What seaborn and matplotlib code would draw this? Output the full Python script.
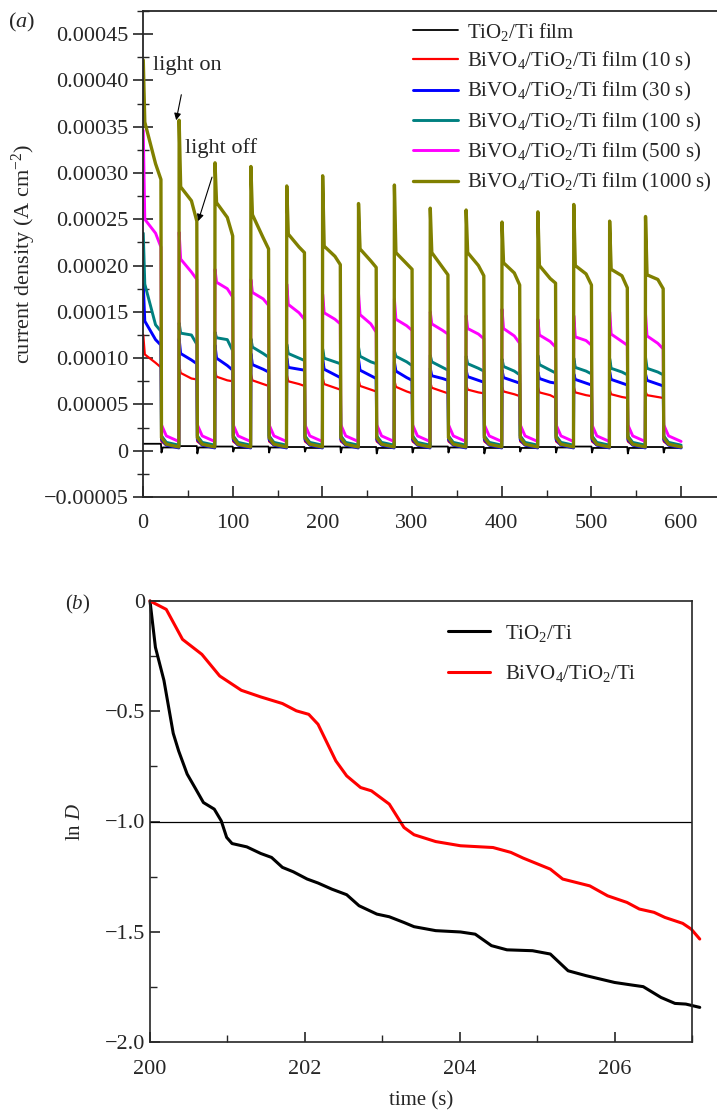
import matplotlib
matplotlib.use('Agg')
import numpy as np
import pandas as pd
import matplotlib.pyplot as plt
import seaborn as sns
from matplotlib.ticker import MultipleLocator, FuncFormatter

# --- SETTINGS & THEME ---
sns.set_style('ticks')
plt.rcParams['font.family'] = ['Liberation Serif', 'DejaVu Serif']
plt.rcParams['mathtext.fontset'] = 'custom'
plt.rcParams['mathtext.rm'] = 'Liberation Serif'
plt.rcParams['mathtext.it'] = 'Liberation Serif:italic'
plt.rcParams['axes.unicode_minus'] = True

# --- PANEL (a): chopped-light photocurrent, values in 1e-5 A cm^-2 ---
LIGHT_ON = [0, 40, 80, 120, 160, 200, 240, 280, 320, 360, 400, 440, 480, 520, 560]
ON_OFFSETS = [0.3, 2.0, 14.0, 20.0]      # spike, knee, shoulder, light off
DARK_OFFSETS = [20.6, 26.0, 40.0]       # after light off

# per cycle: [spike, knee, shoulder, end of light]
OLIVE_1000 = [[42.2, 35.5, 31.0, 29.3], [35.7, 28.5, 27.0, 24.8], [31.1, 26.8, 25.2, 23.2],
              [30.7, 25.5, 23.0, 21.8], [28.6, 23.4, 22.0, 21.4], [29.7, 22.1, 21.0, 20.1],
              [26.7, 21.8, 20.5, 19.8], [28.7, 21.4, 20.2, 19.6], [26.2, 21.4, 19.8, 19.0],
              [26.0, 21.4, 20.0, 18.9], [24.7, 20.3, 19.2, 17.9], [25.8, 20.0, 18.6, 18.1],
              [26.6, 20.0, 19.1, 17.9], [24.8, 19.6, 18.9, 17.6], [25.3, 19.0, 18.5, 17.5]]
MAGENTA_500 = [[34.6, 25.0, 23.5, 22.0], [23.6, 20.7, 19.3, 18.5], [19.6, 18.2, 17.5, 16.6],
               [18.5, 17.1, 16.4, 15.7], [18.0, 15.8, 14.9, 14.2], [16.9, 14.9, 14.2, 13.7],
               [17.0, 14.7, 13.7, 12.8], [16.4, 14.2, 13.5, 13.0], [15.0, 13.7, 13.0, 12.6],
               [14.6, 13.2, 12.6, 12.1], [15.3, 13.2, 12.4, 11.6], [14.2, 12.5, 11.8, 11.2],
               [14.6, 12.3, 11.9, 11.4], [15.0, 12.6, 11.8, 11.4], [14.8, 12.4, 11.6, 11.0]]
TEAL_100 = [[23.5, 18.0, 13.6, 12.9], [13.8, 12.7, 12.5, 11.5], [12.8, 12.2, 12.0, 10.8],
            [12.1, 11.2, 10.5, 10.1], [11.5, 10.5, 10.0, 9.75], [11.0, 10.0, 9.6, 9.4],
            [11.2, 10.2, 9.6, 9.4], [10.8, 10.2, 9.6, 9.2], [10.3, 9.6, 9.0, 8.7],
            [10.2, 9.4, 8.9, 8.6], [9.9, 9.1, 8.6, 8.2], [10.3, 9.3, 8.7, 8.4],
            [10.0, 9.0, 8.6, 8.3], [9.95, 8.9, 8.5, 8.2], [10.1, 8.9, 8.5, 8.2]]
BLUE_30 = [[18.0, 14.0, 12.0, 11.4], [12.1, 10.5, 9.8, 9.4], [11.4, 10.0, 9.2, 8.7],
           [10.5, 9.3, 8.8, 8.5], [10.0, 9.0, 8.8, 8.7], [9.9, 8.8, 8.2, 7.9],
           [9.9, 8.7, 8.1, 7.8], [9.6, 8.6, 7.9, 7.6], [8.9, 8.1, 7.8, 7.6],
           [8.7, 8.0, 7.6, 7.4], [8.7, 7.9, 7.5, 7.3], [8.5, 7.8, 7.4, 7.3],
           [8.3, 7.7, 7.3, 7.1], [8.5, 7.7, 7.3, 7.1], [8.3, 7.6, 7.2, 7.0]]
RED_10 = [[12.5, 10.4, 9.5, 9.0], [9.3, 8.4, 7.8, 7.7], [8.6, 8.0, 7.6, 7.5],
          [8.3, 7.6, 7.2, 7.0], [8.2, 7.5, 7.2, 7.0], [7.9, 7.2, 6.8, 6.6],
          [7.7, 7.0, 6.6, 6.4], [7.6, 6.9, 6.4, 6.2], [7.4, 6.8, 6.4, 6.2],
          [7.2, 6.6, 6.3, 6.2], [6.9, 6.4, 6.1, 5.9], [6.9, 6.3, 6.0, 5.7],
          [6.9, 6.3, 6.0, 5.9], [6.6, 6.1, 5.8, 5.7], [6.4, 6.0, 5.8, 5.7]]
# dark current after light off: [just off, few s later, before next light on]
DARK_OLIVE = [1.4, 0.7, 0.4]
DARK_MAGENTA = [2.8, 1.6, 1.0]
DARK_TEAL = [1.6, 0.9, 0.6]
DARK_BLUE = [1.2, 0.6, 0.3]
DARK_RED = [1.0, 0.6, 0.4]
# bare TiO2/Ti: tiny response, [light on, light off dip, dark]
BLACK_ON = [0.75, 0.5, 0.45, 0.45, 0.4, 0.45, 0.4, 0.4, 0.45, 0.4, 0.4, 0.4, 0.45, 0.4, 0.4]
BLACK_DIP = [-0.2, -0.3, -0.1, -0.2, -0.1, -0.2, -0.3, -0.2, -0.2, -0.3, -0.1, -0.2, -0.2, -0.3, -0.2]
BLACK_OFF = [0.35, 0.35, 0.3, 0.35, 0.3, 0.35, 0.3, 0.3, 0.35, 0.3, 0.3, 0.35, 0.3, 0.3, 0.3]

LABELS_A = ['TiO$_2$/Ti film',
            'BiVO$_4$/TiO$_2$/Ti film (10 s)',
            'BiVO$_4$/TiO$_2$/Ti film (30 s)',
            'BiVO$_4$/TiO$_2$/Ti film (100 s)',
            'BiVO$_4$/TiO$_2$/Ti film (500 s)',
            'BiVO$_4$/TiO$_2$/Ti film (1000 s)']
COLORS_A = ['#000000', '#ff0000', '#0000ff', '#008080', '#ff00ff', '#808000']

# --- PANEL (b): ln D decay ---
T_TIO2 = [200.0, 200.07, 200.18, 200.30, 200.37, 200.48, 200.58, 200.69, 200.83, 200.92,
          200.99, 201.06, 201.25, 201.43, 201.57, 201.71, 201.85, 202.03, 202.17, 202.35,
          202.54, 202.70, 202.93, 203.09, 203.28, 203.41, 203.69, 204.01, 204.20, 204.41,
          204.61, 204.94, 205.17, 205.40, 205.63, 206.00, 206.23, 206.37, 206.60, 206.78,
          206.92, 207.10]
LND_TIO2 = [0.0, -0.21, -0.36, -0.60, -0.68, -0.785, -0.846, -0.914, -0.944, -0.997,
            -1.072, -1.10, -1.115, -1.145, -1.163, -1.208, -1.228, -1.261, -1.279, -1.307,
            -1.332, -1.382, -1.420, -1.432, -1.458, -1.477, -1.495, -1.501, -1.511, -1.563,
            -1.582, -1.586, -1.601, -1.677, -1.699, -1.730, -1.742, -1.749, -1.798, -1.825,
            -1.828, -1.843]
T_BIVO4 = [200.0, 200.21, 200.42, 200.67, 200.90, 201.18, 201.43, 201.71, 201.89, 202.05,
           202.17, 202.40, 202.54, 202.72, 202.86, 203.09, 203.28, 203.41, 203.69, 204.01,
           204.43, 204.66, 204.82, 205.17, 205.33, 205.68, 205.91, 206.16, 206.32, 206.51,
           206.65, 206.88, 206.99, 207.10]
LND_BIVO4 = [0.0, -0.038, -0.174, -0.242, -0.340, -0.405, -0.435, -0.465, -0.498, -0.514,
             -0.559, -0.725, -0.793, -0.846, -0.861, -0.921, -1.027, -1.060, -1.091, -1.110,
             -1.118, -1.140, -1.166, -1.216, -1.261, -1.292, -1.337, -1.367, -1.397, -1.412,
             -1.435, -1.462, -1.488, -1.533]


def transient_frame(cycles, dark):
    """Vertices of one chopped-light curve (read values, joined as a polyline)."""
    t, j = [], []
    for t0, vals in zip(LIGHT_ON, cycles):
        if t0 > 0:
            t.append(t0)
            j.append(dark[-1])
        t += [t0 + o for o in ON_OFFSETS]
        j += vals
        t += [t0 + o for o in DARK_OFFSETS]
        j += dark
    return pd.DataFrame({'time': t, 'j': np.array(j) * 1e-5})


def black_frame():
    t, j = [], []
    for t0, on, dip, off in zip(LIGHT_ON, BLACK_ON, BLACK_DIP, BLACK_OFF):
        t += [t0 + 0.3, t0 + 20.0, t0 + 20.6, t0 + 22.0, t0 + 40.0]
        j += [on, on, dip, off, off]
    return pd.DataFrame({'time': t, 'j': np.array(j) * 1e-5})


fig = plt.figure(figsize=(7.17, 11.13), dpi=100)
ax1 = fig.add_axes([143 / 717, 1 - 497 / 1113, 574 / 717, 486 / 1113])
ax2 = fig.add_axes([150 / 717, 1 - 1042 / 1113, 542 / 717, 441 / 1113])

frames = [black_frame(),
          transient_frame(RED_10, DARK_RED),
          transient_frame(BLUE_30, DARK_BLUE),
          transient_frame(TEAL_100, DARK_TEAL),
          transient_frame(MAGENTA_500, DARK_MAGENTA),
          transient_frame(OLIVE_1000, DARK_OLIVE)]
widths = [1.3, 1.6, 2.1, 2.1, 2.1, 2.4]
for df, lab, col, lw in zip(frames, LABELS_A, COLORS_A, widths):
    sns.lineplot(data=df, x='time', y='j', ax=ax1, color=col, lw=lw, label=lab,
                 sort=False, estimator=None)

ax1.set_xlim(0, 640)
ax1.set_ylim(-0.00005, 0.000475)
ax1.xaxis.set_major_locator(MultipleLocator(100))
ax1.xaxis.set_minor_locator(MultipleLocator(50))
ax1.yaxis.set_major_locator(MultipleLocator(0.00005))
ax1.yaxis.set_minor_locator(MultipleLocator(0.000025))
ax1.yaxis.set_major_formatter(FuncFormatter(
    lambda v, p: '0' if abs(v) < 1e-12 else f'{v:.5f}'.replace('-', '\u2212')))
ax1.tick_params(axis='y', which='major', direction='inout', length=14, width=1.2, labelsize=16)
ax1.tick_params(axis='y', which='minor', direction='inout', length=9, width=1.0)
ax1.tick_params(axis='x', which='major', direction='in', length=8, width=1.2, labelsize=16, pad=12)
ax1.tick_params(axis='x', which='minor', direction='in', length=5, width=1.0)
ax1.spines['right'].set_visible(False)
for s in ['left', 'bottom', 'top']:
    ax1.spines[s].set_linewidth(1.3)
ax1.set_xlabel('')
ax1.set_ylabel('current density (A cm$^{-2}$)', fontsize=16, labelpad=4)
ax1.legend(loc='upper left', bbox_to_anchor=(0.455, 0.997), frameon=False, fontsize=15,
           handlelength=2.2, handletextpad=0.4, labelspacing=0.35, borderaxespad=0)

ax1.annotate('light on', xy=(37, 0.000357), xytext=(11, 0.000416), fontsize=16,
             va='center', ha='left',
             arrowprops=dict(arrowstyle='-|>', color='k', lw=0.8, shrinkA=12, shrinkB=0,
                             mutation_scale=10))
ax1.annotate('light off', xy=(61.5, 0.000248), xytext=(47, 0.000327), fontsize=16,
             va='center', ha='left',
             arrowprops=dict(arrowstyle='-|>', color='k', lw=0.8, shrinkA=12, shrinkB=0,
                             mutation_scale=10))
fig.text(8 / 717, 1 - 22 / 1113, '($a$)', fontsize=16, va='center', ha='left')

# --- panel (b) ---
df_t = pd.DataFrame({'time': T_TIO2, 'lnD': LND_TIO2})
df_b = pd.DataFrame({'time': T_BIVO4, 'lnD': LND_BIVO4})
sns.lineplot(data=df_t, x='time', y='lnD', ax=ax2, color='#000000', lw=2.2,
             label='TiO$_2$/Ti', sort=False, estimator=None)
sns.lineplot(data=df_b, x='time', y='lnD', ax=ax2, color='#ff0000', lw=2.2,
             label='BiVO$_4$/TiO$_2$/Ti', sort=False, estimator=None)
for ln in ax2.lines:
    ln.set_clip_on(False)
ax2.axhline(-1.0, color='k', lw=0.9)

ax2.set_xlim(200, 207)
ax2.set_ylim(-2.0, 0.0)
ax2.xaxis.set_major_locator(MultipleLocator(2))
ax2.xaxis.set_minor_locator(MultipleLocator(1))
ax2.yaxis.set_major_locator(MultipleLocator(0.5))
ax2.yaxis.set_minor_locator(MultipleLocator(0.25))
ax2.xaxis.set_major_formatter(FuncFormatter(lambda v, p: f'{v:.0f}'))
ax2.yaxis.set_major_formatter(FuncFormatter(
    lambda v, p: '0' if abs(v) < 1e-12 else f'{v:.1f}'.replace('-', '\u2212')))
ax2.tick_params(which='major', direction='in', length=7, width=1.2, labelsize=16)
ax2.tick_params(axis='x', which='major', pad=13)
ax2.tick_params(which='minor', direction='in', length=5, width=1.0)
for s in ax2.spines.values():
    s.set_linewidth(1.2)
ax2.set_xlabel('time (s)', fontsize=15, labelpad=9)
ax2.set_ylabel('ln $D$', fontsize=15, labelpad=14)
ax2.legend(loc='upper left', bbox_to_anchor=(0.535, 0.97), frameon=False, fontsize=15,
           handlelength=2.0, handletextpad=0.7, labelspacing=0.95, borderaxespad=0)
fig.text(65 / 717, 1 - 604 / 1113, '($b$)', fontsize=15, va='center', ha='left')

fig.savefig('out.png', dpi=100)
